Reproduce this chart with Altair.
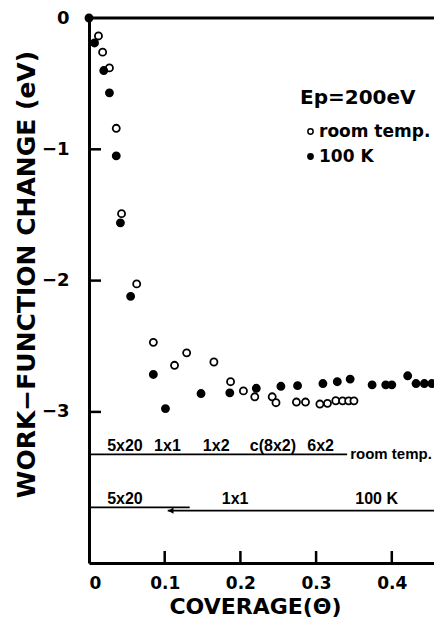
import altair as alt
import pandas as pd

# ---- data ----
rt_x = [0.0125, 0.018, 0.027, 0.036, 0.043, 0.063, 0.085, 0.113, 0.129, 0.165,
        0.187, 0.204, 0.219, 0.242, 0.247, 0.274, 0.286, 0.305, 0.315, 0.326,
        0.335, 0.343, 0.350]
rt_y = [-0.137, -0.26, -0.38, -0.84, -1.49, -2.025, -2.47, -2.645, -2.55, -2.62,
        -2.77, -2.84, -2.885, -2.885, -2.93, -2.925, -2.925, -2.94, -2.935, -2.915,
        -2.916, -2.916, -2.916]

k_x = [0.0, 0.0073, 0.0195, 0.027, 0.036, 0.0415, 0.055, 0.085, 0.101, 0.148,
       0.186, 0.221, 0.2535, 0.2755, 0.309, 0.328, 0.345, 0.374, 0.392, 0.400,
       0.421, 0.432, 0.443, 0.453, 0.461]
k_y = [0.0, -0.19, -0.40, -0.57, -1.05, -1.56, -2.12, -2.715, -2.975, -2.86,
       -2.855, -2.82, -2.805, -2.80, -2.784, -2.77, -2.75, -2.794, -2.794, -2.794,
       -2.725, -2.784, -2.784, -2.784, -2.784]

series_names = ["room temp.", "100 K"]

x_ticks = [0, 0.1, 0.2, 0.3, 0.4]
y_ticks = [0, -1, -2, -3]

# phase-diagram annotation bars
bar_x = [0.0, 0.0, 0.104]
bar_x2 = [0.341, 0.133, 0.456]
bar_y = [-3.323, -3.727, -3.752]

ann_text = ["5x20", "1x1", "1x2", "c(8x2)", "6x2", "5x20", "1x1", "100 K"]
ann_x = [0.0475, 0.1036, 0.168, 0.243, 0.306, 0.0475, 0.193, 0.38]
ann_y = [-3.298, -3.298, -3.298, -3.298, -3.298, -3.70, -3.70, -3.70]

W, H = 345, 545
XPX = 757.0    # pixels per unit coverage
YPX = 131.3    # pixels per eV
XMAX = W / XPX
YMIN = -H / YPX

pts = pd.DataFrame({
    "x": rt_x + k_x,
    "y": rt_y + k_y,
    "series": [series_names[0]] * len(rt_x) + [series_names[1]] * len(k_x),
})

xs = alt.Scale(domain=[0, XMAX], nice=False, zero=False)
ys = alt.Scale(domain=[YMIN, 0], nice=False, zero=False)

BOLD = "DejaVu Sans"
ANN = "Liberation Sans"

points = alt.Chart(pts).mark_point(
    shape="circle", filled=True, stroke="black", strokeWidth=1.8, size=50, opacity=1
).encode(
    x=alt.X("x:Q", scale=xs,
            axis=alt.Axis(values=x_ticks, ticks=False, grid=False,
                          labelExpr="datum.value == 0 ? '0' : format(datum.value, '.1f')",
                          labelFont=BOLD, labelFontWeight="bold", labelFontSize=17,
                          labelPadding=12, labelColor="black",
                          domainColor="black", domainWidth=3,
                          title="COVERAGE(Θ)", titleFont=BOLD, titleFontWeight="bold",
                          titleFontSize=22, titleColor="black",
                          titleX=166, titleY=33, titleBaseline="top")),
    y=alt.Y("y:Q", scale=ys,
            axis=alt.Axis(values=y_ticks, ticks=False, grid=False,
                          labelExpr="datum.value == 0 ? '0' : '\u2212' + format(abs(datum.value), 'd')",
                          labelFont=BOLD, labelFontWeight="bold", labelFontSize=18,
                          labelPadding=20, labelColor="black",
                          domainColor="black", domainWidth=3,
                          title="WORK−FUNCTION CHANGE (eV)", titleFont=BOLD,
                          titleFontWeight="bold", titleFontSize=25, titleColor="black",
                          titleX=-50, titleY=256)),
    fill=alt.Fill("series:N",
                  scale=alt.Scale(domain=series_names, range=["white", "black"]),
                  legend=alt.Legend(title="Ep=200eV", orient="none", legendX=211, legendY=70,
                                    titleFont=BOLD, titleFontWeight="bold", titleFontSize=20,
                                    titleColor="black", titlePadding=15,
                                    labelFont=BOLD, labelFontWeight="bold", labelFontSize=17,
                                    labelColor="black", labelOffset=0,
                                    symbolType="circle", symbolSize=28,
                                    symbolStrokeColor="black", symbolStrokeWidth=1.5,
                                    symbolOffset=2, rowPadding=7, padding=0)),
)

top_line = alt.Chart(pd.DataFrame({"y": [0]})).mark_rule(
    color="black", strokeWidth=3
).encode(y=alt.Y("y:Q", scale=ys))

# inward tick marks (12 px long)
ytick_df = pd.DataFrame({"ty": y_ticks[1:], "tx": [0.0] * 3, "tx2": [12 / XPX] * 3})
yticks = alt.Chart(ytick_df).mark_rule(color="black", strokeWidth=2.5).encode(
    y=alt.Y("ty:Q", scale=ys), x=alt.X("tx:Q", scale=xs), x2="tx2:Q")

xtick_df = pd.DataFrame({"tx": x_ticks[1:], "ty": [YMIN] * 4, "ty2": [YMIN + 12 / YPX] * 4})
xticks = alt.Chart(xtick_df).mark_rule(color="black", strokeWidth=2.5).encode(
    x=alt.X("tx:Q", scale=xs), y=alt.Y("ty:Q", scale=ys), y2="ty2:Q")

bars_df = pd.DataFrame({"x": bar_x, "x2": bar_x2, "y": bar_y})
bars = alt.Chart(bars_df).mark_rule(color="black", strokeWidth=1.8).encode(
    x=alt.X("x:Q", scale=xs), x2="x2:Q", y=alt.Y("y:Q", scale=ys))

arrow = alt.Chart(pd.DataFrame({"x": [0.108], "y": [bar_y[2]]})).mark_point(
    shape="triangle-left", filled=True, color="black", size=40, opacity=1
).encode(x=alt.X("x:Q", scale=xs), y=alt.Y("y:Q", scale=ys))

ann_df = pd.DataFrame({"x": ann_x, "y": ann_y, "t": ann_text})
ann = alt.Chart(ann_df).mark_text(
    font=ANN, fontWeight="bold", fontSize=16, color="black",
    align="center", baseline="alphabetic"
).encode(x=alt.X("x:Q", scale=xs), y=alt.Y("y:Q", scale=ys), text="t:N")

side_df = pd.DataFrame({"x": [0.345], "y": [-3.36], "t": ["room temp."]})
side = alt.Chart(side_df).mark_text(
    font=ANN, fontWeight="bold", fontSize=15, color="black",
    align="left", baseline="alphabetic"
).encode(x=alt.X("x:Q", scale=xs), y=alt.Y("y:Q", scale=ys), text="t:N")

chart = alt.layer(
    top_line, bars, arrow, ann, side, points, yticks, xticks
).properties(
    width=W, height=H,
    padding={"left": 81, "top": 10, "right": 0, "bottom": 55},
    autosize=alt.AutoSizeParams(type="none"),
).configure_view(
    stroke="black", strokeWidth=1.5
).configure(background="white")

chart.save("out.html", embed_options={"renderer": "svg", "actions": False})
